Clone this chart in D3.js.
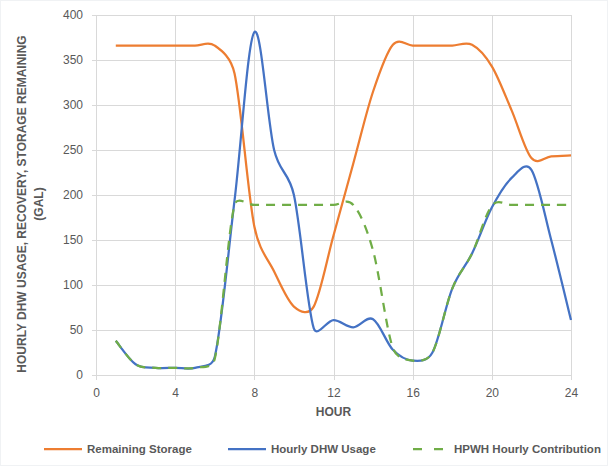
<!DOCTYPE html>
<html>
<head>
<meta charset="utf-8">
<script src="https://cdn.jsdelivr.net/npm/d3@7"></script>
<style>
  body { margin: 0; background: #fff; }
  svg { display: block; font-family: "Liberation Sans", Arial, sans-serif; }
</style>
</head>
<body>
<div id="chart"></div>
<script>
// hourly values
const hours = [1, 2, 3, 4, 5, 6, 7, 8, 9, 10, 11, 12, 13, 14, 15, 16, 17, 18, 19, 20, 21, 22, 23, 24];
const remainingStorage = [366, 366, 366, 366, 366, 366, 335, 165, 115, 76, 76, 155, 235, 315, 367, 366, 366, 366, 367, 343, 294, 241, 243, 244];
const hourlyUsage = [38, 12, 8, 8, 8, 20, 194, 381, 250, 200, 52, 61, 53, 62, 28, 16, 25, 96, 135, 186, 219, 228, 150, 61];
const hpwhContribution = [38, 12, 8, 8, 8, 18, 189, 189, 189, 189, 189, 189, 189, 138, 30, 16, 25, 96, 135, 188, 189, 189, 189, 189];

const xTicks = [0, 4, 8, 12, 16, 20, 24];
const yTicks = [0, 50, 100, 150, 200, 250, 300, 350, 400];

const series = [
    { name: 'Remaining Storage', values: remainingStorage, color: '#ed7d31', dash: null },
    { name: 'Hourly DHW Usage', values: hourlyUsage, color: '#4472c4', dash: null },
    { name: 'HPWH Hourly Contribution', values: hpwhContribution, color: '#70ad47', dash: '9,7' }
];

const width = 608, height = 466;
const margin = { top: 15, bottom: 91, left: 96, right: 37 };

const svg = d3.select('#chart')
    .append('svg')
    .attr('width', width)
    .attr('height', height);

svg.append('rect')
    .attr('x', 0.5).attr('y', 0.5)
    .attr('width', width - 1).attr('height', height - 1)
    .attr('fill', '#fff')
    .attr('stroke', '#f0f2f4');

const x = d3.scaleLinear().domain([0, 24]).range([margin.left, width - margin.right]);
const y = d3.scaleLinear().domain([0, 400]).range([height - margin.bottom, margin.top]);

// gridlines
const grid = svg.append('g').attr('stroke', '#d9d9d9').attr('stroke-width', 1);
grid.selectAll('line.h')
    .data(yTicks)
    .join('line')
    .attr('x1', x(0) - 4).attr('x2', x(24))
    .attr('y1', d => Math.round(y(d)) + 0.5).attr('y2', d => Math.round(y(d)) + 0.5);
grid.selectAll('line.v')
    .data(xTicks)
    .join('line')
    .attr('x1', d => Math.round(x(d)) + 0.5).attr('x2', d => Math.round(x(d)) + 0.5)
    .attr('y1', y(400)).attr('y2', y(0) + 5);

// axes (labels only, lines handled by grid)
const xAxis = svg.append('g')
    .attr('transform', `translate(0, ${y(0)})`)
    .call(d3.axisBottom(x).tickValues(xTicks).tickSize(0).tickPadding(13));
const yAxis = svg.append('g')
    .attr('transform', `translate(${x(0)}, 0)`)
    .call(d3.axisLeft(y).tickValues(yTicks).tickSize(0).tickPadding(13));
[xAxis, yAxis].forEach(a => {
    a.select('.domain').remove();
    a.selectAll('text')
        .attr('fill', '#595959')
        .style('font-size', '12px');
});

// excel-like smoothing: bezier with (next - prev)/6 handles,
// each handle capped at half of its own segment length
function smoothPath(values) {
    const pts = values.map((v, i) => [x(hours[i]), y(v)]);
    const p = d3.path();
    const dist = (a, b) => Math.hypot(b[0] - a[0], b[1] - a[1]);
    const cap = (t, max) => {
        const len = Math.hypot(t[0], t[1]);
        return len > max ? [t[0] * max / len, t[1] * max / len] : t;
    };
    p.moveTo(pts[0][0], pts[0][1]);
    for (let i = 0; i < pts.length - 1; i++) {
        const p0 = pts[i - 1] || pts[i], p1 = pts[i], p2 = pts[i + 1], p3 = pts[i + 2] || pts[i + 1];
        const half = dist(p1, p2) / 2;
        const t1 = cap([(p2[0] - p0[0]) / 6, (p2[1] - p0[1]) / 6], half);
        const t2 = cap([(p3[0] - p1[0]) / 6, (p3[1] - p1[1]) / 6], half);
        p.bezierCurveTo(p1[0] + t1[0], p1[1] + t1[1], p2[0] - t2[0], p2[1] - t2[1], p2[0], p2[1]);
    }
    return p.toString();
}

svg.append('g')
    .selectAll('path')
    .data(series)
    .join('path')
    .attr('d', d => smoothPath(d.values))
    .attr('fill', 'none')
    .attr('stroke', d => d.color)
    .attr('stroke-width', 2.25)
    .attr('stroke-dasharray', d => d.dash)
    .attr('stroke-linejoin', 'round');

// axis titles
svg.append('text')
    .attr('x', x(12)).attr('y', 416)
    .attr('text-anchor', 'middle')
    .attr('fill', '#595959')
    .style('font-size', '12px')
    .style('font-weight', 'bold')
    .text('HOUR');

const yTitle = svg.append('text')
    .attr('transform', 'translate(26, 204) rotate(-90)')
    .attr('text-anchor', 'middle')
    .attr('fill', '#595959')
    .style('font-size', '12px')
    .style('font-weight', 'bold');
yTitle.append('tspan').attr('x', 0).attr('y', 0).text('HOURLY DHW USAGE, RECOVERY, STORAGE REMAINING');
yTitle.append('tspan').attr('x', 0).attr('y', 17).text('(GAL)');

// legend
const legendX = [44, 228, 411];
const legend = svg.append('g')
    .selectAll('g')
    .data(series)
    .join('g')
    .attr('transform', (d, i) => `translate(${legendX[i]}, 449)`);
legend.append('line')
    .attr('x1', 0).attr('x2', 38)
    .attr('stroke', d => d.color)
    .attr('stroke-width', 2.25)
    .attr('stroke-dasharray', d => d.dash ? '9,12' : null)
    .attr('stroke-dashoffset', d => d.dash ? -2 : null);
legend.append('text')
    .attr('x', 43).attr('y', 4)
    .attr('fill', '#595959')
    .style('font-size', '11.5px')
    .style('font-weight', 'bold')
    .text(d => d.name);
</script>
</body>
</html>
